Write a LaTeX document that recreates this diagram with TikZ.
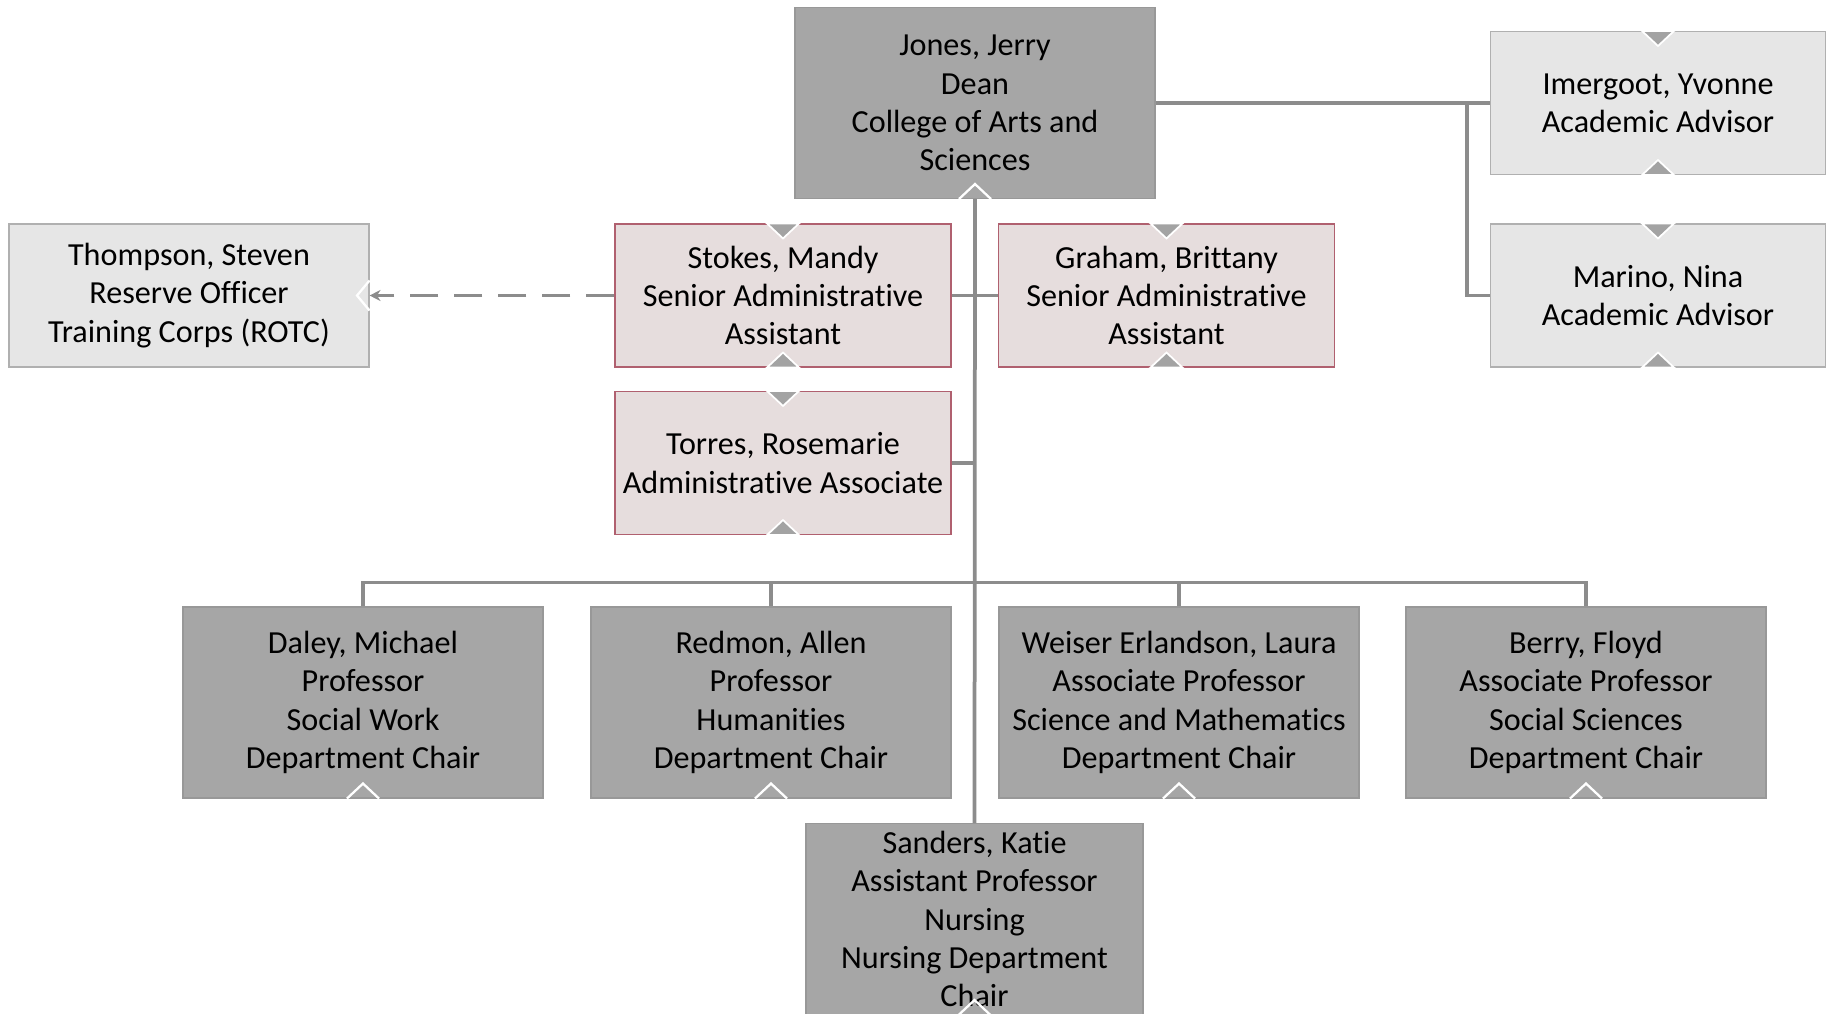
\documentclass[tikz,border=0pt]{standalone}
\usepackage{fontspec}
\setmainfont[Ligatures=NoCommon]{Carlito}
\usepackage{xcolor}
\usetikzlibrary{positioning,calc,arrows.meta}
\definecolor{darkfill}{HTML}{A6A6A6}
\definecolor{darkline}{HTML}{989898}
\definecolor{pinkfill}{HTML}{E6DDDD}
\definecolor{pinkline}{HTML}{B0606F}
\definecolor{lightfill}{HTML}{E6E6E6}
\definecolor{lightline}{HTML}{B0B0B0}
\definecolor{linkgray}{HTML}{8C8C8C}
\definecolor{notchgray}{HTML}{A3A3A3}

\begin{document}
\begin{tikzpicture}[>=Stealth,thick,
			main node/.style={draw=darkline, fill=darkfill, rectangle, align=center, line width=0.6pt,
				minimum width=7.2cm, minimum height=3.82cm, inner sep=0pt, font=\fontsize{18.3}{21.8}\selectfont},
			assist node/.style={main node, draw=pinkline, fill=pinkfill, minimum width=6.72cm, minimum height=2.86cm},
			side node/.style={main node, draw=lightline, fill=lightfill, minimum width=6.7cm, minimum height=2.86cm},
			link/.style={draw=linkgray, line width=0.075cm},
			notch/.style={fill=notchgray, draw=white, line width=1pt}]

			\useasboundingbox (0,0) rectangle (36.54,-20.26);
			\clip (0,0) rectangle (36.54,-20.26);

			\node[main node] (1) at (19.5,-2.06) {Jones, Jerry\\Dean\\College of Arts and\\Sciences};
			\node[side node, minimum width=7.2cm] (2) at (3.78,-5.91) {Thompson, Steven\\Reserve Officer\\Training Corps (ROTC)};
			\node[assist node] (3) at (15.66,-5.91) {Stokes, Mandy\\Senior Administrative\\Assistant};
			\node[assist node] (4) at (23.33,-5.91) {Graham, Brittany\\Senior Administrative\\Assistant};
			\node[assist node] (5) at (15.66,-9.26) {Torres, Rosemarie\\Administrative Associate};
			\node[side node] (6) at (33.16,-2.06) {Imergoot, Yvonne\\Academic Advisor};
			\node[side node] (7) at (33.16,-5.91) {Marino, Nina\\Academic Advisor};
			\node[main node] (8) at (7.26,-14.05) {Daley, Michael\\Professor\\Social Work\\Department Chair};
			\node[main node] (9) at (15.42,-14.05) {Redmon, Allen\\Professor\\Humanities\\Department Chair};
			\node[main node] (10) at (23.58,-14.05) {Weiser Erlandson, Laura\\Associate Professor\\Science and Mathematics\\Department Chair};
			\node[main node] (11) at (31.72,-14.05) {Berry, Floyd\\Associate Professor\\Social Sciences\\Department Chair};
			\node[main node, minimum width=6.74cm, anchor=north] (12) at (19.49,-16.46) {Sanders, Katie\\Assistant Professor\\Nursing\\Nursing Department\\Chair};

			\coordinate (elbow) at (29.34,0);

			\draw[link] (1.south) -- (12.north);
			\draw[link] (3.east) -- (4.west);
			\draw[link] (5.east) -- (5.east -| 1.south);
			\draw[link] (1.east) -- (1.east -| elbow);
			\draw[link] (6.west) -- (6.west -| elbow) |- (7.west);
			\draw[link] (8.north) -- ++(0,0.48) -| (11.north);
			\draw[link] (9.north) -- ++(0,0.48);
			\draw[link] (10.north) -- ++(0,0.48);
			\draw[link, -{Stealth[length=0.22cm,width=0.22cm]}, dash pattern=on 0.56cm off 0.32cm] (3.west) -- (2.east);

			\foreach \n in {1,8,9,10,11,12}
				\draw[white, line width=1.3pt] ($(\n.south)+(-0.32,0)$) -- ++(0.32,0.3) -- ++(0.32,-0.3);
			\foreach \n in {3,4,5,6,7} {
				\filldraw[notch] ($(\n.north)+(-0.32,0)$) -- ++(0.32,-0.3) -- ++(0.32,0.3) -- cycle;
				\filldraw[notch] ($(\n.south)+(-0.32,0)$) -- ++(0.32,0.3) -- ++(0.32,-0.3) -- cycle;
			}
			\draw[white, line width=1.3pt] ($(2.east)+(0,0.3)$) -- ++(-0.25,-0.3) -- ++(0.25,-0.3);
		\end{tikzpicture}
\end{document}
